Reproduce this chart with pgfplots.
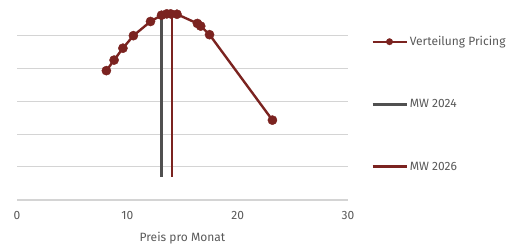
\documentclass[border=0pt]{standalone}
\usepackage{pgfplots}
\pgfplotsset{compat=1.18}
\usepackage{fontspec}
\setmainfont{Fira Sans}
\definecolor{dred}{HTML}{7B2320}
\definecolor{dgray}{HTML}{505050}
\definecolor{gridc}{HTML}{D4D4D4}
\definecolor{txt}{HTML}{595959}
\begin{document}
\begin{tikzpicture}
\useasboundingbox (-17pt,-46pt) rectangle (495pt,200pt);
\begin{axis}[
  at={(0pt,0pt)}, anchor=south west,
  scale only axis, width=331pt, height=198pt,
  xmin=0, xmax=30, ymin=0, ymax=6,
  xtick={0,10,20,30},
  ytick={1,2,3,4,5},
  yticklabels={},
  ymajorgrids, grid style={draw=gridc, line width=1pt},
  axis x line*=bottom, axis y line*=left,
  y axis line style={draw=none},
  x axis line style={draw=gridc, line width=1.2pt, -},
  major tick length=0pt,
  tick label style={font=\fontsize{12}{14}\selectfont, text=txt},
  /pgf/number format/assume math mode=true,
  xticklabel style={yshift=-8pt},
  xlabel={Preis pro Monat},
  xlabel style={font=\fontsize{12}{14}\selectfont, text=txt, yshift=-5pt},
  clip=false,
  legend cell align=left,
  legend style={at={(1.0695,0.485)}, anchor=west, draw=none, fill=none,
    font=\fontsize{12}{14}\selectfont, text=txt, row sep=48.5pt, inner sep=0pt},
  legend image code/.code={\draw[#1,mark repeat=2,mark phase=2,mark size=3.2pt] plot coordinates {(0pt,0pt) (17pt,0pt) (34pt,0pt)};},
]
\addplot[dred, line width=2.4pt, mark=*, mark size=4.6pt, mark options={solid, fill=dred, draw=dred, line width=0.4pt}] coordinates {
  (8.1,3.92) (8.8,4.24) (9.6,4.6) (10.55,4.98) (12.1,5.41) (13.1,5.6) (13.57,5.64) (13.93,5.64) (14.5,5.63) (16.35,5.35) (16.65,5.27) (17.45,5.01) (23.15,2.42)
};
\addlegendentry{Verteilung Pricing}
\addplot[dgray, line width=2.6pt] coordinates {(13.08,0.71) (13.08,5.66)};
\addlegendentry{MW 2024}
\addplot[dred, line width=2.6pt] coordinates {(14.05,0.71) (14.05,5.66)};
\addlegendentry{MW 2026}
\end{axis}
\end{tikzpicture}
\end{document}
